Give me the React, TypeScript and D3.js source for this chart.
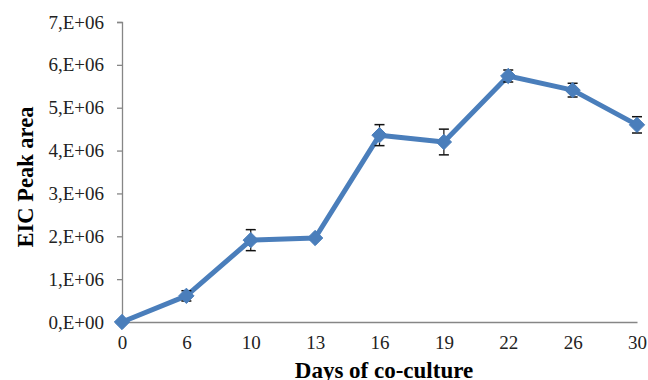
import React, { useEffect, useRef } from 'react';
import * as d3 from 'd3';

const days = ['0', '6', '10', '13', '16', '19', '22', '26', '30'];
const peakArea = [0, 0.61e6, 1.91e6, 1.96e6, 4.36e6, 4.2e6, 5.74e6, 5.41e6, 4.6e6];
const peakErr = [0, 0.12e6, 0.245e6, 0, 0.245e6, 0.3e6, 0.14e6, 0.16e6, 0.19e6];
const yTicks = [0, 1e6, 2e6, 3e6, 4e6, 5e6, 6e6, 7e6];

const FONT = "'Liberation Serif', 'Times New Roman', 'DejaVu Serif', serif";

export default function App() {
  const ref = useRef<SVGSVGElement>(null);

  useEffect(() => {
    const svg = d3.select(ref.current);
    svg.selectAll('*').remove();

    const x = d3.scalePoint().domain(days).range([122, 637]);
    const y = d3.scaleLinear().domain([0, 7e6]).range([322, 22]);
    const axisColor = '#868686';

    // y axis
    const yAxis = svg.append('g')
      .attr('transform', 'translate(122,0)')
      .call(d3.axisLeft(y).tickValues(yTicks).tickSize(5).tickPadding(13)
        .tickFormat(d => `${Math.round(+d / 1e6)},E+0${+d === 0 ? 0 : 6}`));
    yAxis.attr('font-family', null).attr('font-size', null);
    yAxis.select('.domain').attr('stroke', axisColor).attr('stroke-width', 1.3);
    yAxis.selectAll('.tick line').attr('stroke', axisColor).attr('stroke-width', 1.3);
    yAxis.selectAll('.tick text')
      .attr('fill', '#222')
      .attr('font-size', 19);

    // x axis
    const xAxis = svg.append('g')
      .attr('transform', 'translate(0,322)')
      .call(d3.axisBottom(x).tickSize(0).tickPadding(14));
    xAxis.attr('font-family', null).attr('font-size', null);
    xAxis.select('.domain').attr('stroke', axisColor).attr('stroke-width', 1.3);
    xAxis.selectAll('.tick text')
      .attr('fill', '#222')
      .attr('font-size', 19);

    // axis titles
    svg.append('text')
      .attr('transform', 'translate(33,177) rotate(-90)')
      .attr('text-anchor', 'middle')
      .attr('font-size', 22.5)
      .attr('font-weight', 'bold')
      .text('EIC Peak area');

    svg.append('text')
      .attr('x', 384)
      .attr('y', 378)
      .attr('text-anchor', 'middle')
      .attr('font-size', 23)
      .attr('font-weight', 'bold')
      .text('Days of co-culture');

    const pts = days.map((d, i) => ({ day: d, v: peakArea[i], e: peakErr[i] }));

    // line
    const line = d3.line<{ day: string; v: number }>()
      .x(d => x(d.day) as number)
      .y(d => y(d.v));
    svg.append('path')
      .datum(pts)
      .attr('d', line)
      .attr('fill', 'none')
      .attr('stroke', '#4a7ebb')
      .attr('stroke-width', 5)
      .attr('stroke-linejoin', 'round');

    // error bars
    const eb = svg.append('g').selectAll('g').data(pts.filter(p => p.e > 0)).enter().append('g');
    eb.append('line')
      .attr('x1', d => x(d.day) as number).attr('x2', d => x(d.day) as number)
      .attr('y1', d => y(d.v - d.e)).attr('y2', d => y(d.v + d.e))
      .attr('stroke', '#111').attr('stroke-width', 1.2);
    [1, -1].forEach(s => {
      eb.append('line')
        .attr('x1', d => (x(d.day) as number) - 5).attr('x2', d => (x(d.day) as number) + 5)
        .attr('y1', d => y(d.v + s * d.e)).attr('y2', d => y(d.v + s * d.e))
        .attr('stroke', '#111').attr('stroke-width', 1.5);
    });

    // markers
    svg.append('g').selectAll('path').data(pts).enter().append('path')
      .attr('d', d3.symbol().type(d3.symbolDiamond2).size(150))
      .attr('transform', d => `translate(${x(d.day)},${y(d.v)})`)
      .attr('fill', '#4a7ebb')
      .attr('stroke', '#4a7ebb')
      .attr('stroke-width', 1);
  }, []);

  return (
    <svg
      ref={ref}
      width={648}
      height={380}
      fontFamily={FONT}
      style={{ display: 'block', position: 'absolute', left: 0, top: 0 }}
    />
  );
}
